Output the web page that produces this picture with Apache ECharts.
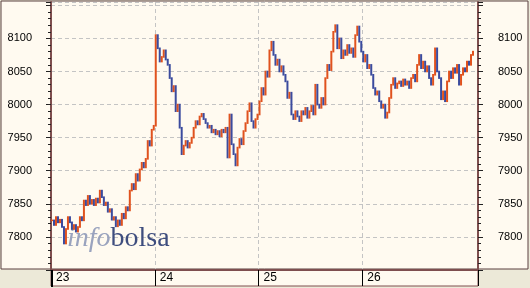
<!DOCTYPE html>
<html><head><meta charset="utf-8">
<script src="https://cdn.jsdelivr.net/npm/echarts@6/dist/echarts.min.js"></script>
<style>html,body{margin:0;padding:0;background:#ECE9D8;}#c{width:530px;height:288px;}</style>
</head><body><div id="c"></div>
<script>
// Day labels and slot counts
const dayLabels = ['23', '24', '25', '26'];
const daySlots = [52, 52, 52, 58];
// Price readings (approx. every 2 px) per day
const day23 = [7825,7818,7830,7822,7826,7815,7790,7812,7830,7822,7812,7818,7808,7815,7830,7825,7855,7848,7862,7850,7856,7848,7858,7852,7870,7860,7848,7852,7838,7842,7826,7830,7816,7825,7818,7835,7828,7845,7840,7870,7880,7872,7895,7885,7902,7912,7905,7918,7945,7938,7962,7968];
const day24 = [8105,8085,8065,8072,8082,8068,8060,8040,8020,8028,7990,8000,7965,7925,7938,7945,7935,7942,7950,7965,7975,7970,7982,7986,7978,7972,7965,7968,7958,7962,7955,7960,7952,7962,7958,7965,7920,7985,7940,7925,7908,7935,7948,7940,7960,7972,7990,8002,7975,7965,7978,7985];
const day25 = [8005,8025,8015,8050,8042,8082,8095,8075,8060,8068,8050,8058,8045,8035,8010,8018,7985,7978,7990,7982,7975,7990,7985,7995,7980,7990,7998,7985,8030,8000,7995,8010,8000,8040,8060,8052,8080,8110,8120,8085,8100,8070,8082,8075,8090,8078,8085,8072,8105,8118,8095,8080];
const day26 = [8065,8075,8055,8060,8045,8025,8015,8020,8005,7995,8000,7980,7988,8010,8030,8040,8025,8032,8035,8028,8038,8030,8035,8025,8040,8045,8035,8060,8075,8055,8065,8050,8058,8040,8030,8045,8085,8050,8040,8008,8020,8005,8035,8050,8040,8055,8048,8060,8030,8045,8055,8050,8065,8060,8075,8080];
const yTicks = [7800, 7850, 7900, 7950, 8000, 8050, 8100];

const closes = day23.concat(day24, day25, day26);
const categories = [];
const dayStart = {};
let s = 0;
daySlots.forEach((n, d) => { dayStart[s] = dayLabels[d]; for (let i = 0; i < n; i++) categories.push(String(s + i)); s += n; });
// each bar runs from the previous reading to the current one
const bars = closes.map((c, i) => [i, i > 0 ? closes[i - 1] : c, c]);
const isDay = (i) => dayStart[i] !== undefined;

const brown = '#7E4E4E';
const upColor = '#E0521E', downColor = '#3B4B9E';
const yAxisBase = (pos) => ({
  type: 'value', position: pos, min: 7750, max: 8155, interval: 50,
  axisLine: { show: true, onZero: false, lineStyle: { color: brown, width: 2 } },
  axisTick: { show: true, inside: false, length: 5, lineStyle: { color: '#222' } },
  minorTick: { show: true, splitNumber: 5, length: 3, lineStyle: { color: '#222' } },
  splitLine: { show: pos === 'left', lineStyle: { color: '#C4C4C4', type: [4, 3] } },
  axisLabel: {
    margin: pos === 'left' ? 19 : 20,
    fontFamily: 'Liberation Sans, Arial, sans-serif', fontSize: 11, color: '#000',
    formatter: (v) => yTicks.indexOf(v) >= 0 ? String(v) : ''
  }
});

const chart = echarts.init(document.getElementById('c'));
chart.setOption({
  backgroundColor: '#ECE9D8',
  animation: false,
  graphic: [
    { type: 'rect', shape: { x: 1, y: 1, width: 527, height: 268 }, style: { fill: '#FFFAF0', stroke: '#5A4040', lineWidth: 1 }, z: -10 },
    { type: 'rect', shape: { x: 51, y: 270, width: 427, height: 16 }, style: { fill: '#FFFAF0', stroke: brown, lineWidth: 1 }, z: -10 },
    { type: 'line', shape: { x1: 52, y1: 270, x2: 52, y2: 287 }, style: { stroke: '#000', lineWidth: 2 }, z: 10 },
    { type: 'text', left: 67, top: 225, z: 1,
      style: { text: '{a|info}{b|bolsa}', rich: {
        a: { fontFamily: 'Liberation Serif, serif', fontStyle: 'italic', fontSize: 28, fill: '#9AA3BE' },
        b: { fontFamily: 'Liberation Serif, serif', fontSize: 28, fill: '#3E4D7E' } } } }
  ],
  grid: { left: 51, right: 52, top: 2, height: 268, containLabel: false },
  xAxis: {
    type: 'category', data: categories, boundaryGap: true,
    axisLine: { show: true, lineStyle: { color: brown, width: 2 } },
    axisTick: { show: true, inside: false, length: 16, interval: (i) => isDay(i) && i > 0, lineStyle: { color: '#000' } },
    splitLine: { show: true, interval: (i) => isDay(i) && i > 0, lineStyle: { color: '#C4C4C4', type: [4, 3] } },
    axisLabel: {
      interval: (i) => isDay(i), formatter: (v, i) => dayStart[i] || '',
      align: 'left', padding: [0, 0, 0, 4], margin: 2,
      fontFamily: 'Liberation Sans, Arial, sans-serif', fontSize: 12, color: '#000'
    }
  },
  yAxis: [yAxisBase('left'), yAxisBase('right')],
  series: [{
    type: 'custom', data: bars, encode: { x: 0, y: [1, 2] }, z: 5,
    renderItem: (params, api) => {
      const o = api.value(1), c = api.value(2);
      const p1 = api.coord([api.value(0), o]);
      const p2 = api.coord([api.value(0), c]);
      const up = c >= o;
      const y1 = Math.max(p1[1], p2[1]) + 0.8, y2 = Math.min(p1[1], p2[1]) - 0.8;
      return { type: 'line', shape: { x1: p1[0], y1: y1, x2: p2[0], y2: y2 },
        style: { stroke: up ? upColor : downColor, lineWidth: 2 } };
    }
  }]
});
</script></body></html>
